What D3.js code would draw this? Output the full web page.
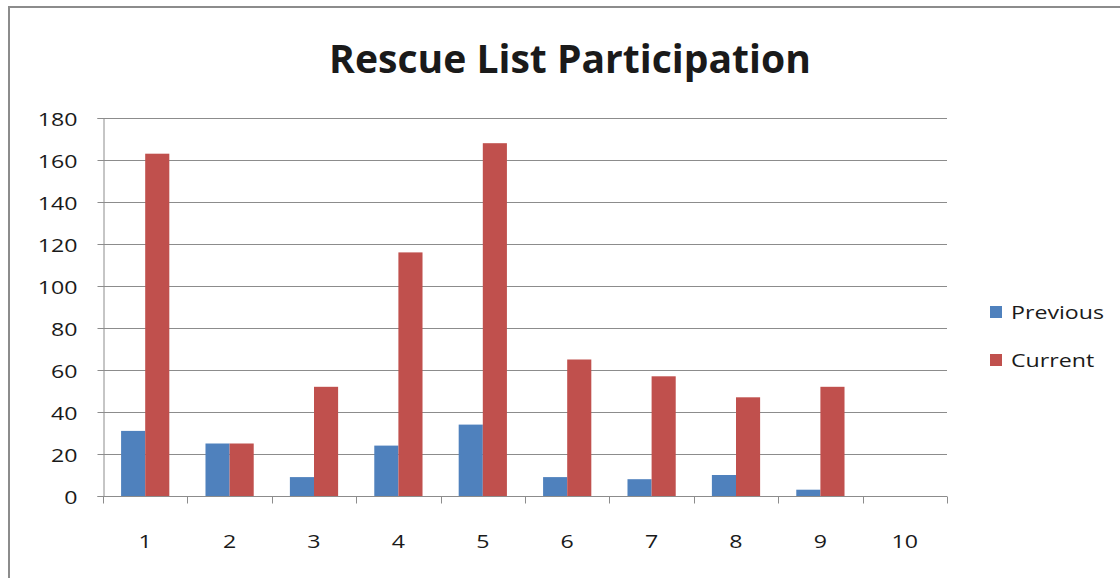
<!DOCTYPE html>
<html>
<head>
<meta charset="utf-8">
<script src="https://cdn.jsdelivr.net/npm/d3@7"></script>
<style>
  html, body { margin: 0; padding: 0; background: #fff; }
  svg { display: block; }
  text { font-family: "Open Sans", "DejaVu Sans", sans-serif; fill: #1a1a1a; }
</style>
</head>
<body>
<svg id="chart" width="1120" height="578"></svg>
<script>
// Participation counts per list
const categories = ["1", "2", "3", "4", "5", "6", "7", "8", "9", "10"];
const previousValues = [31, 25, 9, 24, 34, 9, 8, 10, 3, 0];
const currentValues = [163, 25, 52, 116, 168, 65, 57, 47, 52, 0];
const seriesNames = ["Previous", "Current"];
const yTicks = [0, 20, 40, 60, 80, 100, 120, 140, 160, 180];
const chartTitle = "Rescue List Participation";

const colors = { Previous: "#4F81BD", Current: "#C0504D" };
const labelSize = 19;     // font size for axis and legend text
const labelStretch = 1.22; // horizontal widening of label glyphs
const svg = d3.select("#chart");

// place a text at (x, y) with widened glyphs
function stretched(sel, x, y) {
  sel.attr("x", 0).attr("y", 0).attr("dy", null)
    .attr("transform", `translate(${x},${y}) scale(${labelStretch},1)`);
}

// outer frame (left and top edges visible)
svg.append("path")
  .attr("d", "M9,580 V7 H1122")
  .attr("fill", "none")
  .attr("stroke", "#8c8c8c")
  .attr("stroke-width", 2);

const plot = { left: 103, right: 947, top: 118, bottom: 496 };

const x = d3.scaleBand().domain(categories).range([plot.left, plot.right]).paddingInner(0).paddingOuter(0);
// two bars per category with a 150% gap
const barW = x.bandwidth() / 3.5;
const xs = d3.scaleBand().domain(seriesNames).range([0, barW * 2]);
const y = d3.scaleLinear().domain([0, 180]).range([plot.bottom, plot.top]);

// horizontal gridlines
svg.append("g")
  .selectAll("line")
  .data(yTicks.filter(d => d > 0))
  .join("line")
  .attr("x1", plot.left).attr("x2", plot.right)
  .attr("y1", d => Math.round(y(d)) + 0.5).attr("y2", d => Math.round(y(d)) + 0.5)
  .attr("stroke", "#8c8c8c").attr("stroke-width", 1);

// bars
const rows = categories.map((c, i) => ({ cat: c, Previous: previousValues[i], Current: currentValues[i] }));
const groups = svg.append("g")
  .selectAll("g")
  .data(rows)
  .join("g")
  .attr("transform", d => `translate(${x(d.cat) + (x.bandwidth() - barW * 2) / 2},0)`);

groups.selectAll("rect")
  .data(d => seriesNames.map(s => ({ s, v: d[s] })))
  .join("rect")
  .attr("x", d => xs(d.s))
  .attr("width", xs.bandwidth())
  .attr("y", d => y(d.v))
  .attr("height", d => y(0) - y(d.v))
  .attr("fill", d => colors[d.s]);

// y axis
const yAxis = svg.append("g")
  .attr("transform", `translate(${plot.left + 0.5},0)`)
  .call(d3.axisLeft(y).tickValues(yTicks).tickSize(6).tickPadding(26));
yAxis.select(".domain").attr("stroke", "#8c8c8c");
yAxis.selectAll(".tick line").attr("stroke", "#8c8c8c");
yAxis.selectAll(".tick text")
  .style("font-size", labelSize + "px")
  .style("font-family", '"Open Sans", sans-serif')
  .attr("fill", "#1a1a1a")
  .attr("dominant-baseline", "central")
  .each(function () { stretched(d3.select(this), -26, 0); });

// x axis with tick marks on category boundaries
const xAxisG = svg.append("g").attr("transform", `translate(0,${plot.bottom + 0.5})`);
xAxisG.append("line")
  .attr("x1", plot.left).attr("x2", plot.right)
  .attr("stroke", "#8c8c8c");
xAxisG.selectAll("line.tk")
  .data(categories.map(c => x(c)).concat([plot.right]))
  .join("line")
  .attr("class", "tk")
  .attr("x1", d => Math.round(d) + 0.5).attr("x2", d => Math.round(d) + 0.5)
  .attr("y1", 0).attr("y2", 7)
  .attr("stroke", "#8c8c8c");
xAxisG.selectAll("text")
  .data(categories)
  .join("text")
  .attr("text-anchor", "middle")
  .style("font-size", labelSize + "px")
  .text(d => d)
  .each(function (d) { stretched(d3.select(this), x(d) + x.bandwidth() / 2, 51); });

// title
const title = svg.append("text")
  .attr("x", 570)
  .attr("y", 73)
  .attr("text-anchor", "middle")
  .style("font-size", "34px")
  .style("font-weight", "700")
  .attr("fill", "#000")
  .text(chartTitle);
const tw = title.node().getComputedTextLength();
title.style("font-size", (34 * 482 / tw).toFixed(1) + "px");

// legend
const legend = svg.append("g")
  .selectAll("g")
  .data(seriesNames)
  .join("g")
  .attr("transform", (d, i) => `translate(990,${306 + i * 48})`);
legend.append("rect")
  .attr("width", 12).attr("height", 12)
  .attr("fill", d => colors[d]);
legend.append("text")
  .style("font-size", labelSize + "px")
  .text(d => d)
  .each(function () { stretched(d3.select(this), 21, 13); });
</script>
</body>
</html>
